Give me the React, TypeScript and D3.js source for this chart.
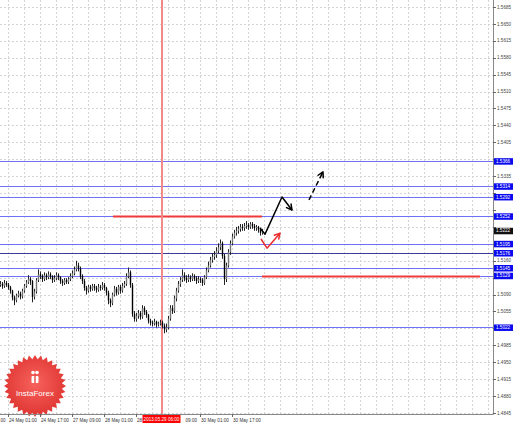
import React from "react";
import * as d3 from "d3";

const W = 518;
const H = 424;

// H1 candles, index 0 = 23 May 21:00
const firstOpen = 1.511;
const closes = [
  1.5112, 1.5108, 1.5114, 1.511, 1.5105, 1.5098, 1.5084, 1.5078, 1.5088, 1.5092,
  1.5086, 1.5098, 1.5108, 1.5115, 1.5122, 1.5118, 1.5085, 1.5096, 1.512, 1.5132,
  1.5128, 1.5122, 1.513, 1.5126, 1.5132, 1.5128, 1.512, 1.5124, 1.513, 1.5126,
  1.5118, 1.5114, 1.512, 1.5116, 1.5122, 1.5128, 1.5134, 1.5142, 1.515, 1.5144,
  1.5128, 1.5118, 1.5104, 1.5098, 1.5106, 1.5102, 1.5108, 1.5104, 1.51, 1.5106,
  1.5104, 1.511, 1.5104, 1.5094, 1.5078, 1.5072, 1.509, 1.5102, 1.5094, 1.5106,
  1.5098, 1.5108, 1.5112, 1.5128, 1.5136, 1.511, 1.505, 1.504, 1.5046, 1.5052,
  1.5044, 1.5062, 1.5054, 1.5048, 1.5036, 1.5032, 1.503, 1.5034, 1.5028, 1.503,
  1.5032, 1.5026, 1.5018, 1.5022, 1.504, 1.5062, 1.5056, 1.5082, 1.5098, 1.5112,
  1.512, 1.513, 1.5124, 1.512, 1.5126, 1.5122, 1.5128, 1.5124, 1.5118, 1.5122,
  1.512, 1.5114, 1.5126, 1.514, 1.515, 1.5162, 1.5168, 1.5172, 1.518, 1.5188,
  1.5196, 1.517, 1.5122, 1.515, 1.5178, 1.5196, 1.521, 1.5218, 1.5222, 1.5226,
  1.523, 1.5228, 1.5232, 1.5234, 1.523, 1.5236, 1.5232, 1.5228, 1.523, 1.5224,
  1.5218, 1.5222,
];
const highs = [
  1.5118, 1.5116, 1.512, 1.5118, 1.5114, 1.5108, 1.51, 1.5088, 1.5092, 1.5098,
  1.5096, 1.5102, 1.5112, 1.512, 1.513, 1.5126, 1.512, 1.5102, 1.5124, 1.5142,
  1.5138, 1.5132, 1.5136, 1.5134, 1.5138, 1.5136, 1.513, 1.513, 1.5136, 1.5134,
  1.5128, 1.5122, 1.5124, 1.5124, 1.5126, 1.5134, 1.514, 1.5148, 1.516, 1.5156,
  1.5148, 1.5132, 1.5122, 1.5108, 1.511, 1.511, 1.5112, 1.5112, 1.5108, 1.5112,
  1.511, 1.5116, 1.5114, 1.5106, 1.5098, 1.5082, 1.5094, 1.5108, 1.5106, 1.511,
  1.511, 1.5114, 1.5118, 1.5134, 1.5146, 1.514, 1.5114, 1.5056, 1.5052, 1.5058,
  1.5056, 1.5068, 1.5066, 1.5058, 1.505, 1.504, 1.5036, 1.504, 1.5036, 1.5034,
  1.5038, 1.5036, 1.503, 1.503, 1.5046, 1.5068, 1.5068, 1.5088, 1.5104, 1.5118,
  1.5126, 1.5142, 1.5136, 1.513, 1.5132, 1.513, 1.5134, 1.5132, 1.5128, 1.5128,
  1.5126, 1.5124, 1.513, 1.5146, 1.5158, 1.5168, 1.5176, 1.518, 1.5188, 1.5196,
  1.5204, 1.52, 1.5174, 1.5156, 1.5184, 1.5202, 1.5216, 1.5224, 1.523, 1.5232,
  1.5236, 1.5236, 1.5238, 1.5242, 1.5238, 1.524, 1.524, 1.5236, 1.5234, 1.5232,
  1.5228, 1.5226,
];
const lows = [
  1.5106, 1.5102, 1.5104, 1.5106, 1.51, 1.5092, 1.5078, 1.5068, 1.5074, 1.5084,
  1.508, 1.5082, 1.5094, 1.5104, 1.5112, 1.511, 1.5074, 1.508, 1.5092, 1.5116,
  1.5122, 1.5116, 1.5118, 1.512, 1.5122, 1.5122, 1.5114, 1.5116, 1.512, 1.512,
  1.5112, 1.5108, 1.511, 1.5112, 1.5112, 1.5118, 1.5124, 1.513, 1.5138, 1.5138,
  1.5122, 1.5112, 1.5098, 1.509, 1.5094, 1.5096, 1.5098, 1.5098, 1.5094, 1.5096,
  1.5098, 1.51, 1.5098, 1.5088, 1.507, 1.5064, 1.5068, 1.5086, 1.5088, 1.509,
  1.5092, 1.5094, 1.5104, 1.5108, 1.5124, 1.5104, 1.5044, 1.5034, 1.5034, 1.504,
  1.5038, 1.504, 1.5048, 1.5042, 1.503, 1.5026, 1.5024, 1.5026, 1.5022, 1.5024,
  1.5026, 1.502, 1.501, 1.5012, 1.5018, 1.5036, 1.505, 1.5052, 1.5076, 1.5094,
  1.5106, 1.5116, 1.5118, 1.5114, 1.5116, 1.5116, 1.5118, 1.5118, 1.5112, 1.5114,
  1.5114, 1.5108, 1.511, 1.5122, 1.5136, 1.5146, 1.5156, 1.5162, 1.5166, 1.5176,
  1.5182, 1.5164, 1.511, 1.5116, 1.5146, 1.5172, 1.5192, 1.5206, 1.5212, 1.5216,
  1.522, 1.5222, 1.5222, 1.5226, 1.5224, 1.5226, 1.5226, 1.5222, 1.5222, 1.5218,
  1.5212, 1.5214,
];

// price axis ticks
const priceTicks = d3.range(0, 25).map((k) => +(1.4845 + k * 0.0035).toFixed(4));

// support / resistance levels (blue)
const blueLevels = [1.5366, 1.5314, 1.5292, 1.5252, 1.5195, 1.5176, 1.5145, 1.5129, 1.5022];
const darkLevels = [1.5176];
const currentPrice = 1.5222;

// red levels: [price, fromIndex, toIndex]
const redLevels: [number, number, number][] = [
  [1.5252, 56.5, 131],
  [1.5129, 131, 240],
];

// forecast arrows: [index, price]
const blackPath: [number, number][] = [
  [130, 1.5228],
  [132.5, 1.5215],
  [141, 1.5292],
  [146, 1.5265],
];
const dashedPath: [number, number][] = [
  [154.5, 1.5286],
  [161.5, 1.5344],
];
const redPath: [number, number][] = [
  [130.5, 1.5205],
  [133.5, 1.5186],
  [140, 1.5217],
];

// time axis labels: [bar index, visible text]
const timeLabels: [number, string][] = [
  [4, "24 May 01:00"],
  [20, "24 May 17:00"],
  [36, "27 May 09:00"],
  [52, "28 May 01:00"],
  [68, "28"],
  [100, "30 May 01:00"],
  [116, "30 May 17:00"],
];
const edgeLabel = "00";
const hiddenTailLabel = "09:00"; // tail of "29 May 09:00", partly behind marker
const hiddenTailIndex = 84;
const markerIndex = 81;
const markerLabel = "2013.05.29 06:00";

const PLOT_R = 493;
const PLOT_B = 414;

const x = d3.scaleLinear().domain([0, 246.5]).range([0, 493]);
const y = d3.scaleLinear().domain([1.4845, 1.5685]).range([413, 7]);

const FONT = "'Liberation Sans', Arial, sans-serif";

function arrowHead(pts: [number, number][], color: string, len = 6) {
  const a = pts[pts.length - 2];
  const b = pts[pts.length - 1];
  const x1 = x(a[0]), y1 = y(a[1]), x2 = x(b[0]), y2 = y(b[1]);
  const ang = Math.atan2(y2 - y1, x2 - x1);
  const s = 0.5;
  const p1 = [x2 - len * Math.cos(ang - s), y2 - len * Math.sin(ang - s)];
  const p2 = [x2 - len * Math.cos(ang + s), y2 - len * Math.sin(ang + s)];
  return (
    <path
      d={`M${p1[0]},${p1[1]}L${x2},${y2}L${p2[0]},${p2[1]}`}
      fill="none"
      stroke={color}
      strokeWidth={1.5}
      strokeLinecap="round"
      strokeLinejoin="round"
    />
  );
}

function Badge() {
  const cx = 35, cy = 386, R = 31, r = 27, n = 32;
  const pts: string[] = [];
  for (let k = 0; k < n * 2; k++) {
    const rad = k % 2 === 0 ? R : r;
    const a = (Math.PI * k) / n - Math.PI / 2;
    pts.push(`${cx + rad * Math.cos(a)},${cy + rad * Math.sin(a)}`);
  }
  return (
    <g>
      <defs>
        <radialGradient id="bg" cx="50%" cy="45%" r="55%">
          <stop offset="0%" stopColor="#f7625c" />
          <stop offset="100%" stopColor="#df3532" />
        </radialGradient>
      </defs>
      <polygon points={pts.join(" ")} fill="url(#bg)" />
      <g fill="#fff">
        <rect x={31.5} y={376} width={7} height={7} rx={1} />
        <rect x={34.3} y={372} width={1.4} height={11} fill="#ec4a45" />
        <circle cx={33} cy={372.5} r={1.8} />
        <circle cx={37} cy={372.5} r={1.8} />
      </g>
      <text x={cx} y={396} fill="#fff" fontSize={8} fontFamily={FONT} textAnchor="middle">
        InstaForex
      </text>
    </g>
  );
}

export default function App() {
  const opens = closes.map((_, i) => (i === 0 ? firstOpen : closes[i - 1]));
  const line = d3
    .line<[number, number]>()
    .x((d) => x(d[0]))
    .y((d) => y(d[1]));
  const vGrid = d3.range(4, 246, 8);
  const tagged = [...blueLevels, currentPrice];
  const visibleTicks = priceTicks.filter(
    (p) => !tagged.some((q) => Math.abs(y(p) - y(q)) < 6.6)
  );
  const markerX = Math.round(x(markerIndex)) - 1;

  return (
    <svg
      width={W}
      height={H}
      style={{ position: "fixed", left: 0, top: 0, background: "#fff" }}
    >
      <defs>
        <clipPath id="plot">
          <rect x={0} y={0} width={PLOT_R} height={PLOT_B} />
        </clipPath>
      </defs>
      <rect x={0} y={0} width={W} height={H} fill="#fff" />
      <g clipPath="url(#plot)">
        {vGrid.map((i) => (
          <line
            key={"v" + i}
            x1={x(i) + 0.5}
            x2={x(i) + 0.5}
            y1={0}
            y2={PLOT_B}
            stroke="#d4d4d4"
            strokeDasharray="2 2"
          />
        ))}
        {priceTicks.map((p) => (
          <line
            key={"h" + p}
            x1={0}
            x2={PLOT_R}
            y1={Math.round(y(p)) + 0.5}
            y2={Math.round(y(p)) + 0.5}
            stroke="#d4d4d4"
            strokeDasharray="2 2"
          />
        ))}
        {blueLevels.map((p) => (
          <line
            key={"b" + p}
            x1={0}
            x2={PLOT_R}
            y1={Math.round(y(p)) + 0.5}
            y2={Math.round(y(p)) + 0.5}
            stroke={darkLevels.includes(p) ? "#3a3a9a" : "#7070f4"}
            strokeWidth={1}
          />
        ))}
        {redLevels.map(([p, a, b]) => (
          <line
            key={"r" + p}
            x1={x(a)}
            x2={x(b)}
            y1={Math.round(y(p)) + 0.5}
            y2={Math.round(y(p)) + 0.5}
            stroke="#ee3a3a"
            strokeWidth={2}
          />
        ))}
        <rect x={markerX} y={0} width={2} height={PLOT_B} fill="#f28a8a" />
        {closes.map((c, i) => {
          const o = opens[i];
          const cxp = x(i) + 0.5;
          const top = y(Math.max(o, c));
          const bot = y(Math.min(o, c));
          return (
            <g key={"c" + i}>
              <line x1={cxp} x2={cxp} y1={y(highs[i])} y2={y(lows[i])} stroke="#222" strokeWidth={1} />
              <rect
                x={cxp - 0.7}
                y={top}
                width={1.4}
                height={Math.max(bot - top, 0.8)}
                fill={c >= o ? "#777" : "#000"}
              />
            </g>
          );
        })}
        <path d={line(blackPath) || ""} fill="none" stroke="#000" strokeWidth={1.5} strokeLinejoin="round" />
        {arrowHead(blackPath, "#000")}
        <path
          d={line(dashedPath) || ""}
          fill="none"
          stroke="#000"
          strokeWidth={1.5}
          strokeDasharray="5 3"
        />
        {arrowHead(dashedPath, "#000")}
        <path d={line(redPath) || ""} fill="none" stroke="#ee2b2b" strokeWidth={1.5} strokeLinejoin="round" />
        {arrowHead(redPath, "#ee2b2b")}
      </g>

      <Badge />

      <line x1={PLOT_R + 0.5} x2={PLOT_R + 0.5} y1={0} y2={PLOT_B + 0.5} stroke="#888" />
      <line x1={0} x2={PLOT_R + 0.5} y1={PLOT_B + 0.5} y2={PLOT_B + 0.5} stroke="#888" />

      {priceTicks.map((p) => (
        <line
          key={"tk" + p}
          x1={PLOT_R}
          x2={PLOT_R + 3}
          y1={Math.round(y(p)) + 0.5}
          y2={Math.round(y(p)) + 0.5}
          stroke="#666"
        />
      ))}
      {visibleTicks.map((p) => (
        <text
          key={"pt" + p}
          x={PLOT_R + 4}
          y={y(p) + 1.6}
          fontSize={4.6}
          fontFamily={FONT}
          fill="#444"
        >
          {p.toFixed(4)}
        </text>
      ))}
      {blueLevels.map((p) => (
        <g key={"bl" + p}>
          <rect x={PLOT_R + 1} y={y(p) - 3} width={19} height={6.5} fill="#0a0af0" />
          <text x={PLOT_R + 3} y={y(p) + 1.7} fontSize={4.6} fontFamily={FONT} fill="#fff">
            {p.toFixed(4)}
          </text>
        </g>
      ))}
      <rect x={PLOT_R + 1} y={y(currentPrice) - 3} width={19} height={6.5} fill="#111" />
      <text x={PLOT_R + 3} y={y(currentPrice) + 1.7} fontSize={4.6} fontFamily={FONT} fill="#fff">
        {currentPrice.toFixed(4)}
      </text>

      {timeLabels.map(([i, t]) => (
        <g key={"t" + i}>
          <line x1={x(i) + 0.5} x2={x(i) + 0.5} y1={PLOT_B} y2={PLOT_B + 3} stroke="#666" />
          <text x={x(i) + 1} y={421.5} fontSize={4.6} fontFamily={FONT} fill="#333">
            {t}
          </text>
        </g>
      ))}
      <text x={0.5} y={421.5} fontSize={4.6} fontFamily={FONT} fill="#333">
        {edgeLabel}
      </text>
      <line
        x1={x(hiddenTailIndex) + 0.5}
        x2={x(hiddenTailIndex) + 0.5}
        y1={PLOT_B}
        y2={PLOT_B + 3}
        stroke="#666"
      />
      <text x={x(hiddenTailIndex) + 29} y={421.5} fontSize={4.6} fontFamily={FONT} fill="#333" textAnchor="end">
        {hiddenTailLabel}
      </text>
      <rect x={x(markerIndex) - 19.5} y={415} width={38} height={8} fill="#ff0000" />
      <text
        x={x(markerIndex) - 0.5}
        y={421.2}
        fontSize={4.6}
        fontFamily={FONT}
        fill="#fff"
        textAnchor="middle"
      >
        {markerLabel}
      </text>
    </svg>
  );
}
